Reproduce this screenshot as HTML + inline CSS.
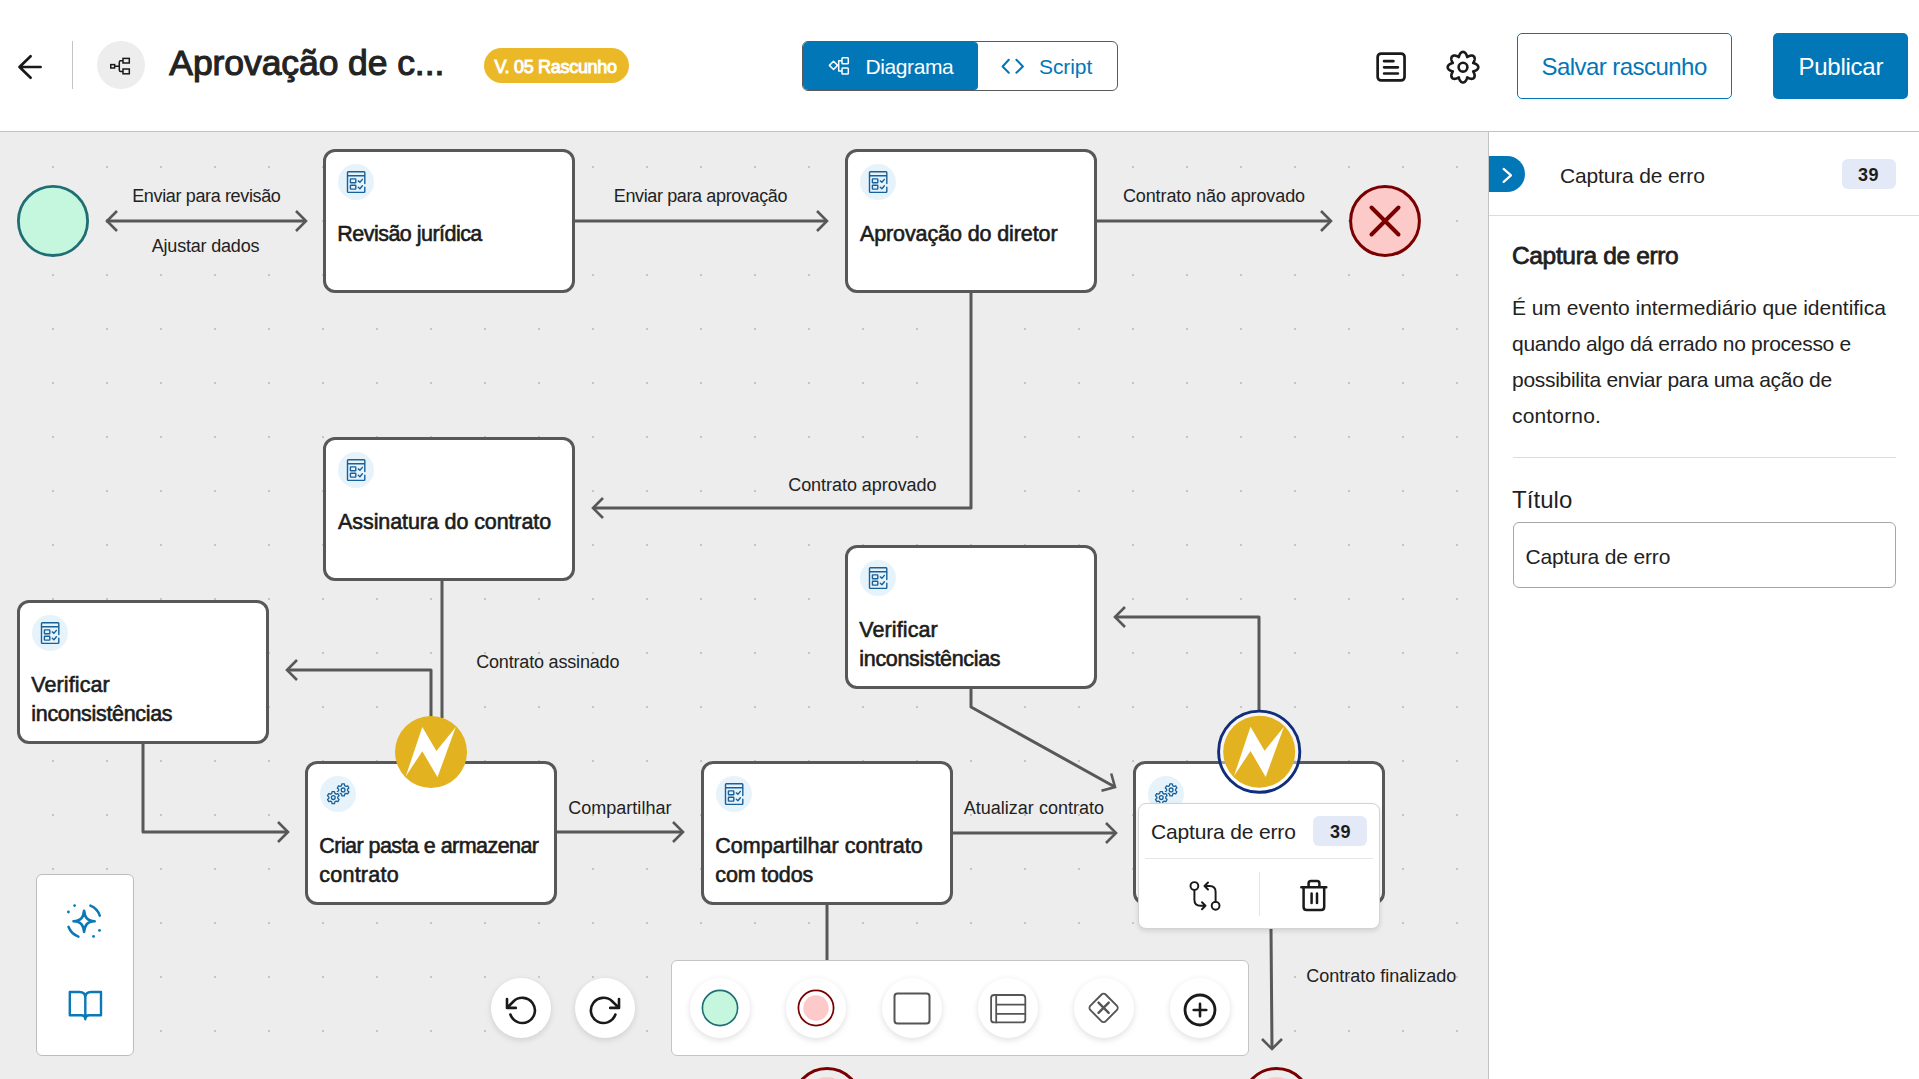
<!DOCTYPE html>
<html><head><meta charset="utf-8">
<style>
*{box-sizing:border-box;margin:0;padding:0}
html,body{width:1919px;height:1079px;overflow:hidden;background:#fff;font-family:"Liberation Sans",sans-serif;color:#1f1f1f}
.a{position:absolute}
.t{position:absolute;white-space:nowrap;line-height:1}
#header{position:absolute;left:0;top:0;width:1919px;height:132px;background:#fff;border-bottom:1px solid #c2c2c2}
#canvas{position:absolute;left:0;top:132px;width:1488px;height:947px;background:#ededed;overflow:hidden}
#panel{position:absolute;left:1488px;top:132px;width:431px;height:947px;background:#fff;border-left:1px solid #c3c3c3}
.node{position:absolute;width:252px;height:144px;background:#fff;border:3px solid #585858;border-radius:12px}
.node .ic{position:absolute;left:12px;top:12px}
.nt{position:absolute;left:11.3px;white-space:nowrap;font-size:21.5px;font-weight:normal;-webkit-text-stroke:0.6px #1c1c1c;line-height:29.5px;color:#1c1c1c}
.lbl{font-size:18px;color:#222;margin-left:-0.8px}
.rb{width:60px;height:60px;border-radius:50%;background:#fff;box-shadow:0 2px 6px rgba(0,0,0,0.13)}
#panel .t{margin-left:-1px}
</style></head><body>
<div id="header">
  <svg class="a" style="left:0;top:40px" width="60" height="60" viewBox="0 40 60 60"><path d="M40.6 67H19.5M30.6 56.2L19.5 67L30.6 77.8" fill="none" stroke="#1a1a1a" stroke-width="2.7" stroke-linecap="round" stroke-linejoin="round"/></svg>
  <div class="a" style="left:72px;top:41px;width:1px;height:48px;background:#c4c4c4"></div>
  <div class="a" style="left:97px;top:41px;width:48px;height:48px;border-radius:50%;background:#ededed"></div>
  <svg class="a" style="left:109px;top:56px" width="24" height="20" viewBox="0 0 24 20"><g fill="none" stroke="#1a1a1a" stroke-width="1.5"><rect x="1.75" y="8.6" width="3.9" height="3.4"/><rect x="14" y="2.4" width="6.3" height="4.6"/><rect x="14" y="13" width="6.3" height="4.8"/><path d="M5.65 10.3H10.3M14 4.7H11.8Q10.3 4.7 10.3 6.2V13.9Q10.3 15.4 11.8 15.4H14"/></g></svg>
  <div class="t" style="left:169.3px;top:46.4px;font-size:35.5px;-webkit-text-stroke:1.1px #232323;letter-spacing:-0.08px;color:#232323">Aprovação de c...</div>
  <div class="a" style="left:483.5px;top:48px;width:145px;height:35px;border-radius:18px;background:#ebb828"></div>
  <div class="t" style="left:494.5px;top:58px;font-size:18px;-webkit-text-stroke:0.95px #fff;letter-spacing:-0.3px;color:#fff">V. 05 Rascunho</div>

  <div class="a" style="left:802px;top:41px;width:316px;height:50px;border:1px solid #5a5a5a;border-radius:6px;overflow:hidden">
    <div class="a" style="left:0;top:0;width:174.5px;height:48px;background:#0277b8;border-radius:0 4px 4px 0"></div>
  </div>
  <svg class="a" style="left:826px;top:55px" width="26" height="22" viewBox="0 0 26 22"><g fill="none" stroke="#fff" stroke-width="1.5" stroke-linejoin="round"><path d="M3.4 10.4L7.5 6.3L11.6 10.4L7.5 14.5Z"/><rect x="16" y="2.75" width="6.3" height="6" rx="0.8"/><rect x="16" y="13" width="6.3" height="6" rx="0.8"/><path d="M16 5.75H12.7V16H16"/></g></svg>
  <div class="t" style="left:865.5px;top:56px;font-size:21px;letter-spacing:-0.4px;color:#fff">Diagrama</div>
  <svg class="a" style="left:999px;top:56px" width="28" height="20" viewBox="0 0 28 20"><g fill="none" stroke="#0277b8" stroke-width="2" stroke-linecap="round" stroke-linejoin="round"><path d="M9.8 3.8L3.6 10.5L9.8 16.8M17.4 3.8L23.9 10.5L17.4 16.8"/></g></svg>
  <div class="t" style="left:1039px;top:56px;font-size:21px;letter-spacing:-0.08px;color:#0277b8">Script</div>

  <svg class="a" style="left:1373px;top:49px" width="36" height="36" viewBox="0 0 36 36"><g fill="none" stroke="#1a1a1a" stroke-width="2.7" stroke-linecap="round" stroke-linejoin="round"><rect x="4.65" y="4.55" width="26.9" height="26.9" rx="3.5"/><path d="M11.1 12.2H20.4M11.1 18.3H24.9M11.1 24.5H24.9"/></g></svg>
  <svg class="a" style="left:1445px;top:49px" width="36" height="36" viewBox="0 0 36 36"><g fill="none" stroke="#1a1a1a" stroke-width="2.6" stroke-linejoin="round"><path d="M18.00 2.90L18.30 2.92L18.60 2.97L18.89 3.06L19.18 3.18L19.46 3.33L19.74 3.52L20.00 3.73L20.25 3.97L20.49 4.24L20.72 4.53L20.93 4.84L21.13 5.17L21.31 5.52L21.48 5.88L21.63 6.24L21.76 6.61L21.89 6.99L22.00 7.36L22.10 7.71L22.21 8.04L22.51 7.88L22.84 7.70L23.18 7.52L23.53 7.35L23.89 7.18L24.26 7.03L24.63 6.89L25.00 6.78L25.37 6.68L25.74 6.61L26.11 6.57L26.47 6.55L26.82 6.55L27.15 6.59L27.48 6.65L27.79 6.74L28.08 6.86L28.35 7.01L28.59 7.18L28.82 7.38L29.02 7.61L29.19 7.85L29.34 8.12L29.46 8.41L29.55 8.72L29.61 9.05L29.65 9.38L29.65 9.73L29.63 10.09L29.59 10.46L29.52 10.83L29.42 11.20L29.31 11.57L29.17 11.94L29.02 12.31L28.85 12.67L28.68 13.02L28.50 13.36L28.32 13.69L28.16 13.99L28.49 14.10L28.84 14.20L29.21 14.31L29.59 14.44L29.96 14.57L30.32 14.72L30.68 14.89L31.03 15.07L31.36 15.27L31.67 15.48L31.96 15.71L32.23 15.95L32.47 16.20L32.68 16.46L32.87 16.74L33.02 17.02L33.14 17.31L33.23 17.60L33.28 17.90L33.30 18.20L33.28 18.50L33.23 18.80L33.14 19.09L33.02 19.38L32.87 19.66L32.68 19.94L32.47 20.20L32.23 20.45L31.96 20.69L31.67 20.92L31.36 21.13L31.03 21.33L30.68 21.51L30.32 21.68L29.96 21.83L29.59 21.96L29.21 22.09L28.84 22.20L28.49 22.30L28.16 22.41L28.32 22.71L28.50 23.04L28.68 23.38L28.85 23.73L29.02 24.09L29.17 24.46L29.31 24.83L29.42 25.20L29.52 25.57L29.59 25.94L29.63 26.31L29.65 26.67L29.65 27.02L29.61 27.35L29.55 27.68L29.46 27.99L29.34 28.28L29.19 28.55L29.02 28.79L28.82 29.02L28.59 29.22L28.35 29.39L28.08 29.54L27.79 29.66L27.48 29.75L27.15 29.81L26.82 29.85L26.47 29.85L26.11 29.83L25.74 29.79L25.37 29.72L25.00 29.62L24.63 29.51L24.26 29.37L23.89 29.22L23.53 29.05L23.18 28.88L22.84 28.70L22.51 28.52L22.21 28.36L22.10 28.69L22.00 29.04L21.89 29.41L21.76 29.79L21.63 30.16L21.48 30.52L21.31 30.88L21.13 31.23L20.93 31.56L20.72 31.87L20.49 32.16L20.25 32.43L20.00 32.67L19.74 32.88L19.46 33.07L19.18 33.22L18.89 33.34L18.60 33.43L18.30 33.48L18.00 33.50L17.70 33.48L17.40 33.43L17.11 33.34L16.82 33.22L16.54 33.07L16.26 32.88L16.00 32.67L15.75 32.43L15.51 32.16L15.28 31.87L15.07 31.56L14.87 31.23L14.69 30.88L14.52 30.52L14.37 30.16L14.24 29.79L14.11 29.41L14.00 29.04L13.90 28.69L13.79 28.36L13.49 28.52L13.16 28.70L12.82 28.88L12.47 29.05L12.11 29.22L11.74 29.37L11.37 29.51L11.00 29.62L10.63 29.72L10.26 29.79L9.89 29.83L9.53 29.85L9.18 29.85L8.85 29.81L8.52 29.75L8.21 29.66L7.92 29.54L7.65 29.39L7.41 29.22L7.18 29.02L6.98 28.79L6.81 28.55L6.66 28.28L6.54 27.99L6.45 27.68L6.39 27.35L6.35 27.02L6.35 26.67L6.37 26.31L6.41 25.94L6.48 25.57L6.58 25.20L6.69 24.83L6.83 24.46L6.98 24.09L7.15 23.73L7.32 23.38L7.50 23.04L7.68 22.71L7.84 22.41L7.51 22.30L7.16 22.20L6.79 22.09L6.41 21.96L6.04 21.83L5.68 21.68L5.32 21.51L4.97 21.33L4.64 21.13L4.33 20.92L4.04 20.69L3.77 20.45L3.53 20.20L3.32 19.94L3.13 19.66L2.98 19.38L2.86 19.09L2.77 18.80L2.72 18.50L2.70 18.20L2.72 17.90L2.77 17.60L2.86 17.31L2.98 17.02L3.13 16.74L3.32 16.46L3.53 16.20L3.77 15.95L4.04 15.71L4.33 15.48L4.64 15.27L4.97 15.07L5.32 14.89L5.68 14.72L6.04 14.57L6.41 14.44L6.79 14.31L7.16 14.20L7.51 14.10L7.84 13.99L7.68 13.69L7.50 13.36L7.32 13.02L7.15 12.67L6.98 12.31L6.83 11.94L6.69 11.57L6.58 11.20L6.48 10.83L6.41 10.46L6.37 10.09L6.35 9.73L6.35 9.38L6.39 9.05L6.45 8.72L6.54 8.41L6.66 8.12L6.81 7.85L6.98 7.61L7.18 7.38L7.41 7.18L7.65 7.01L7.92 6.86L8.21 6.74L8.52 6.65L8.85 6.59L9.18 6.55L9.53 6.55L9.89 6.57L10.26 6.61L10.63 6.68L11.00 6.78L11.37 6.89L11.74 7.03L12.11 7.18L12.47 7.35L12.82 7.52L13.16 7.70L13.49 7.88L13.79 8.04L13.90 7.71L14.00 7.36L14.11 6.99L14.24 6.61L14.37 6.24L14.52 5.88L14.69 5.52L14.87 5.17L15.07 4.84L15.28 4.53L15.51 4.24L15.75 3.97L16.00 3.73L16.26 3.52L16.54 3.33L16.82 3.18L17.11 3.06L17.40 2.97L17.70 2.92Z"/><circle cx="18" cy="18.2" r="4.4"/></g></svg>

  <div class="a" style="left:1517px;top:33px;width:215px;height:66px;border:1.5px solid #0277b8;border-radius:5px"></div>
  <div class="t" style="left:1541.5px;top:55px;font-size:24px;letter-spacing:-0.55px;color:#0277b8">Salvar rascunho</div>
  <div class="a" style="left:1773px;top:33px;width:135px;height:66px;background:#0277b8;border-radius:5px"></div>
  <div class="t" style="left:1798.5px;top:55px;font-size:24px;letter-spacing:-0.26px;color:#fff">Publicar</div>
</div>
<div id="canvas">
  <svg class="a" style="left:0;top:0" width="1488" height="947">
    <defs><pattern id="dots" x="52" y="34" width="54" height="54" patternUnits="userSpaceOnUse"><rect x="0" y="0" width="2" height="2" fill="#c6c6c6"/></pattern></defs>
    <rect x="0" y="0" width="1488" height="947" fill="url(#dots)"/>
  </svg>
  <svg class="a" style="left:0;top:0" width="1488" height="947"><g transform="translate(0,-132)" fill="none" stroke="#585858" stroke-linejoin="round"><path stroke-width="3" d="M106 221H306M575 221H827M1097 221H1331M971 293V508H593M442 580V718M431 718V670H287M143 742V832H288M557 832H683M953 833H1116M971 688V707L1115 787M1259 712V617H1115M827 904V962M1271 928L1272 1049"/><path stroke-width="2.6" stroke-linecap="butt" stroke-linejoin="miter" d="M117.0 211.0L107.0 221.0L117.0 231.0M296.0 211.0L306.0 221.0L296.0 231.0M817.0 211.0L827.0 221.0L817.0 231.0M1321.0 211.0L1331.0 221.0L1321.0 231.0M603.0 498.0L593.0 508.0L603.0 518.0M297.0 660.0L287.0 670.0L297.0 680.0M278.0 822.0L288.0 832.0L278.0 842.0M673.0 822.0L683.0 832.0L673.0 842.0M1106.0 823.0L1116.0 833.0L1106.0 843.0M1125.0 607.0L1115.0 617.0L1125.0 627.0M1262.0 1039.0L1272.0 1049.0L1282.0 1039.0M1111.2 773.5L1115.0 787.0L1101.5 790.8"/></g></svg>
  <div class="node" style="left:323px;top:17px"><svg class="ic" width="36" height="36" viewBox="0 0 36 36"><circle cx="18" cy="18" r="18" fill="#e7f3fb"/><g fill="none" stroke="#17609a" stroke-width="1.4" stroke-linecap="round" stroke-linejoin="round"><path d="M26.8 19.6V8.6Q26.8 7.8 26 7.8H10.3Q9.5 7.8 9.5 8.6V27.6Q9.5 28.4 10.3 28.4H26Q26.8 28.4 26.8 27.6V23.2M9.5 11.8H26.8"/><rect x="12.4" y="14.9" width="5.4" height="3.8" rx="0.5"/><rect x="12.4" y="21.3" width="5.4" height="3.8" rx="0.5"/><path d="M20.3 16.9L21.9 18.3L24.4 15.4M20.3 23.3L21.9 24.7L24.4 21.8"/></g></svg><div class="nt" style="top:67.6px;letter-spacing:-0.53px">Revisão jurídica</div></div>
  <div class="node" style="left:845px;top:17px"><svg class="ic" width="36" height="36" viewBox="0 0 36 36"><circle cx="18" cy="18" r="18" fill="#e7f3fb"/><g fill="none" stroke="#17609a" stroke-width="1.4" stroke-linecap="round" stroke-linejoin="round"><path d="M26.8 19.6V8.6Q26.8 7.8 26 7.8H10.3Q9.5 7.8 9.5 8.6V27.6Q9.5 28.4 10.3 28.4H26Q26.8 28.4 26.8 27.6V23.2M9.5 11.8H26.8"/><rect x="12.4" y="14.9" width="5.4" height="3.8" rx="0.5"/><rect x="12.4" y="21.3" width="5.4" height="3.8" rx="0.5"/><path d="M20.3 16.9L21.9 18.3L24.4 15.4M20.3 23.3L21.9 24.7L24.4 21.8"/></g></svg><div class="nt" style="top:67.6px;letter-spacing:-0.1px;margin-left:0.6px">Aprovação do diretor</div></div>
  <div class="node" style="left:323px;top:305px"><svg class="ic" width="36" height="36" viewBox="0 0 36 36"><circle cx="18" cy="18" r="18" fill="#e7f3fb"/><g fill="none" stroke="#17609a" stroke-width="1.4" stroke-linecap="round" stroke-linejoin="round"><path d="M26.8 19.6V8.6Q26.8 7.8 26 7.8H10.3Q9.5 7.8 9.5 8.6V27.6Q9.5 28.4 10.3 28.4H26Q26.8 28.4 26.8 27.6V23.2M9.5 11.8H26.8"/><rect x="12.4" y="14.9" width="5.4" height="3.8" rx="0.5"/><rect x="12.4" y="21.3" width="5.4" height="3.8" rx="0.5"/><path d="M20.3 16.9L21.9 18.3L24.4 15.4M20.3 23.3L21.9 24.7L24.4 21.8"/></g></svg><div class="nt" style="top:67.6px;letter-spacing:-0.1px;margin-left:0.8px">Assinatura do contrato</div></div>
  <div class="node" style="left:845px;top:413px"><svg class="ic" width="36" height="36" viewBox="0 0 36 36"><circle cx="18" cy="18" r="18" fill="#e7f3fb"/><g fill="none" stroke="#17609a" stroke-width="1.4" stroke-linecap="round" stroke-linejoin="round"><path d="M26.8 19.6V8.6Q26.8 7.8 26 7.8H10.3Q9.5 7.8 9.5 8.6V27.6Q9.5 28.4 10.3 28.4H26Q26.8 28.4 26.8 27.6V23.2M9.5 11.8H26.8"/><rect x="12.4" y="14.9" width="5.4" height="3.8" rx="0.5"/><rect x="12.4" y="21.3" width="5.4" height="3.8" rx="0.5"/><path d="M20.3 16.9L21.9 18.3L24.4 15.4M20.3 23.3L21.9 24.7L24.4 21.8"/></g></svg><div class="nt" style="top:67.6px;letter-spacing:0.09px">Verificar</div><div class="nt" style="top:97.1px;letter-spacing:-0.32px">inconsistências</div></div>
  <div class="node" style="left:17px;top:468px"><svg class="ic" width="36" height="36" viewBox="0 0 36 36"><circle cx="18" cy="18" r="18" fill="#e7f3fb"/><g fill="none" stroke="#17609a" stroke-width="1.4" stroke-linecap="round" stroke-linejoin="round"><path d="M26.8 19.6V8.6Q26.8 7.8 26 7.8H10.3Q9.5 7.8 9.5 8.6V27.6Q9.5 28.4 10.3 28.4H26Q26.8 28.4 26.8 27.6V23.2M9.5 11.8H26.8"/><rect x="12.4" y="14.9" width="5.4" height="3.8" rx="0.5"/><rect x="12.4" y="21.3" width="5.4" height="3.8" rx="0.5"/><path d="M20.3 16.9L21.9 18.3L24.4 15.4M20.3 23.3L21.9 24.7L24.4 21.8"/></g></svg><div class="nt" style="top:67.6px;letter-spacing:0.09px">Verificar</div><div class="nt" style="top:97.1px;letter-spacing:-0.32px">inconsistências</div></div>
  <div class="node" style="left:305px;top:629px"><svg class="ic" width="36" height="36" viewBox="0 0 36 36"><circle cx="18" cy="18" r="18" fill="#e7f3fb"/><g fill="none" stroke="#17609a" stroke-width="1.3" stroke-linejoin="round"><path d="M21.51 9.69L21.89 7.92L24.31 7.92L24.69 9.69L25.95 10.42L27.67 9.86L28.88 11.96L27.54 13.17L27.54 14.63L28.88 15.84L27.67 17.94L25.95 17.38L24.69 18.11L24.31 19.88L21.89 19.88L21.51 18.11L20.25 17.38L18.53 17.94L17.32 15.84L18.66 14.63L18.66 13.17L17.32 11.96L18.53 9.86L20.25 10.42Z"/><circle cx="23.1" cy="13.9" r="1.9"/><path d="M11.71 17.39L12.09 15.62L14.51 15.62L14.89 17.39L16.15 18.12L17.87 17.56L19.08 19.66L17.74 20.87L17.74 22.33L19.08 23.54L17.87 25.64L16.15 25.08L14.89 25.81L14.51 27.58L12.09 27.58L11.71 25.81L10.45 25.08L8.73 25.64L7.52 23.54L8.86 22.33L8.86 20.87L7.52 19.66L8.73 17.56L10.45 18.12Z" fill="#e7f3fb" stroke="#e7f3fb" stroke-width="3.2"/><path d="M11.71 17.39L12.09 15.62L14.51 15.62L14.89 17.39L16.15 18.12L17.87 17.56L19.08 19.66L17.74 20.87L17.74 22.33L19.08 23.54L17.87 25.64L16.15 25.08L14.89 25.81L14.51 27.58L12.09 27.58L11.71 25.81L10.45 25.08L8.73 25.64L7.52 23.54L8.86 22.33L8.86 20.87L7.52 19.66L8.73 17.56L10.45 18.12Z"/><circle cx="13.3" cy="21.6" r="1.9"/></g></svg><div class="nt" style="top:67.6px;letter-spacing:-0.55px">Criar pasta e armazenar</div><div class="nt" style="top:97.1px;letter-spacing:0.23px">contrato</div></div>
  <div class="node" style="left:701px;top:629px"><svg class="ic" width="36" height="36" viewBox="0 0 36 36"><circle cx="18" cy="18" r="18" fill="#e7f3fb"/><g fill="none" stroke="#17609a" stroke-width="1.4" stroke-linecap="round" stroke-linejoin="round"><path d="M26.8 19.6V8.6Q26.8 7.8 26 7.8H10.3Q9.5 7.8 9.5 8.6V27.6Q9.5 28.4 10.3 28.4H26Q26.8 28.4 26.8 27.6V23.2M9.5 11.8H26.8"/><rect x="12.4" y="14.9" width="5.4" height="3.8" rx="0.5"/><rect x="12.4" y="21.3" width="5.4" height="3.8" rx="0.5"/><path d="M20.3 16.9L21.9 18.3L24.4 15.4M20.3 23.3L21.9 24.7L24.4 21.8"/></g></svg><div class="nt" style="top:67.6px;letter-spacing:0.03px">Compartilhar contrato</div><div class="nt" style="top:97.1px;letter-spacing:-0.16px">com todos</div></div>
  <div class="node" style="left:1133px;top:629px"><svg class="ic" width="36" height="36" viewBox="0 0 36 36"><circle cx="18" cy="18" r="18" fill="#e7f3fb"/><g fill="none" stroke="#17609a" stroke-width="1.3" stroke-linejoin="round"><path d="M21.51 9.69L21.89 7.92L24.31 7.92L24.69 9.69L25.95 10.42L27.67 9.86L28.88 11.96L27.54 13.17L27.54 14.63L28.88 15.84L27.67 17.94L25.95 17.38L24.69 18.11L24.31 19.88L21.89 19.88L21.51 18.11L20.25 17.38L18.53 17.94L17.32 15.84L18.66 14.63L18.66 13.17L17.32 11.96L18.53 9.86L20.25 10.42Z"/><circle cx="23.1" cy="13.9" r="1.9"/><path d="M11.71 17.39L12.09 15.62L14.51 15.62L14.89 17.39L16.15 18.12L17.87 17.56L19.08 19.66L17.74 20.87L17.74 22.33L19.08 23.54L17.87 25.64L16.15 25.08L14.89 25.81L14.51 27.58L12.09 27.58L11.71 25.81L10.45 25.08L8.73 25.64L7.52 23.54L8.86 22.33L8.86 20.87L7.52 19.66L8.73 17.56L10.45 18.12Z" fill="#e7f3fb" stroke="#e7f3fb" stroke-width="3.2"/><path d="M11.71 17.39L12.09 15.62L14.51 15.62L14.89 17.39L16.15 18.12L17.87 17.56L19.08 19.66L17.74 20.87L17.74 22.33L19.08 23.54L17.87 25.64L16.15 25.08L14.89 25.81L14.51 27.58L12.09 27.58L11.71 25.81L10.45 25.08L8.73 25.64L7.52 23.54L8.86 22.33L8.86 20.87L7.52 19.66L8.73 17.56L10.45 18.12Z"/><circle cx="13.3" cy="21.6" r="1.9"/></g></svg></div>
  <svg class="a" style="left:0;top:0" width="1488" height="947"><g transform="translate(0,-132)">
  <circle cx="53" cy="220.9" r="34.6" fill="#c4f7de" stroke="#1f6e73" stroke-width="2.8"/>
  <circle cx="1385" cy="221" r="34.4" fill="#fdcaca" stroke="#7a0000" stroke-width="3"/>
  <path d="M1371.5 207.5L1398.5 234.5M1398.5 207.5L1371.5 234.5" stroke="#7a0000" stroke-width="4" stroke-linecap="round"/>
  <circle cx="827" cy="1102" r="33.5" fill="none" stroke="#7a0000" stroke-width="3"/>
  <circle cx="827" cy="1102" r="25" fill="#fdcaca"/>
  <circle cx="1276.5" cy="1102" r="33.5" fill="none" stroke="#7a0000" stroke-width="3"/>
  <circle cx="1276.5" cy="1102" r="25" fill="#fdcaca"/>
</g></svg>
  <div class="t lbl" style="left:133px;top:54.8px;letter-spacing:-0.356px">Enviar para revisão</div>
  <div class="t lbl" style="left:152.5px;top:104.8px;letter-spacing:-0.19px">Ajustar dados</div>
  <div class="t lbl" style="left:614.6px;top:54.8px;letter-spacing:-0.374px">Enviar para aprovação</div>
  <div class="t lbl" style="left:1123.7px;top:54.8px;letter-spacing:-0.096px">Contrato não aprovado</div>
  <div class="t lbl" style="left:789px;top:343.8px;letter-spacing:-0.046px">Contrato aprovado</div>
  <div class="t lbl" style="left:477px;top:521.1px;letter-spacing:-0.18px">Contrato assinado</div>
  <div class="t lbl" style="left:569px;top:667.4px;letter-spacing:0.02px">Compartilhar</div>
  <div class="t lbl" style="left:964.5px;top:666.6px;letter-spacing:0.016px">Atualizar contrato</div>
  <div class="t lbl" style="left:1307px;top:835.2px;letter-spacing:0px">Contrato finalizado</div>
  <svg class="a" style="left:0;top:0" width="1488" height="947"><g transform="translate(0,-132)">
  <circle cx="431" cy="752" r="36" fill="#e2b220"/>
  <path transform="translate(431,752)" d="M-8.7 -25L5.4 -1L24.8 -25L6.5 25.2L-8.7 -0.7L-25.2 24.3Z" fill="#fff"/>
  <circle cx="1259.2" cy="751.7" r="40.6" fill="rgba(255,255,255,0.45)" stroke="#112e7c" stroke-width="2.9"/>
  <circle cx="1259.2" cy="751.7" r="36" fill="#e2b220"/>
  <path transform="translate(1259.2,751.7)" d="M-8.7 -25L5.4 -1L24.8 -25L6.5 25.2L-8.7 -0.7L-25.2 24.3Z" fill="#fff"/>
  </g></svg>
  <div class="a" style="left:1138px;top:671px;width:242px;height:125.5px;background:#fff;border:1px solid #d4d4d4;border-radius:8px;box-shadow:0 2px 5px rgba(0,0,0,0.12)"></div>
  <div class="t" style="left:1151px;top:689.2px;font-size:21px;letter-spacing:-0.16px;color:#222">Captura de erro</div>
  <div class="a" style="left:1313px;top:684px;width:54px;height:30px;border-radius:6px;background:#e3e9f6"></div>
  <div class="t" style="left:1330px;top:690.8px;font-size:18px;font-weight:bold;letter-spacing:0.4px;color:#1c1c1c">39</div>
  <div class="a" style="left:1145px;top:726px;width:228px;height:1px;background:#e6e6e6"></div>
  <div class="a" style="left:1259px;top:739.5px;width:1px;height:44px;background:#e6e6e6"></div>
  <svg class="a" style="left:1185px;top:744px" width="40" height="40" viewBox="0 0 40 40"><g fill="none" stroke="#1a1a1a" stroke-width="1.95" stroke-linecap="round" stroke-linejoin="round" transform="translate(-1185,-876)"><circle cx="1194.4" cy="886" r="3.9"/><circle cx="1215.6" cy="905.8" r="3.9"/><path d="M1194.4 889.9V899.8Q1194.4 905.8 1200.4 905.8H1205.5M1202 902.3L1205.5 905.8L1202 909.3"/><path d="M1215.6 901.9V892Q1215.6 886 1209.6 886H1204.5M1208 882.5L1204.5 886L1208 889.5"/></g></svg>
  <svg class="a" style="left:1295px;top:744px" width="40" height="40" viewBox="0 0 40 40"><g fill="none" stroke="#1a1a1a" stroke-width="2.5" stroke-linecap="round" stroke-linejoin="round" transform="translate(-1295,-876)"><path d="M1301.3 887.2H1326.3M1308.6 887V883.3Q1308.6 881 1310.9 881H1317.1Q1319.4 881 1319.4 883.3V887M1303.6 887.2V907Q1303.6 910 1306.6 910H1321.2Q1324.2 910 1324.2 907V887.2M1311.6 893.5V903M1317 893.5V903"/></g></svg>
  <div class="a" style="left:36px;top:742px;width:98px;height:182px;background:#fff;border:1px solid #bdbdbd;border-radius:6px"></div>
  <svg class="a" style="left:0;top:0" width="1488" height="947"><g transform="translate(0,-132)" fill="none" stroke="#0b78b8" stroke-width="2.2" stroke-linecap="round" stroke-linejoin="round">
    <path stroke-width="2.6" d="M84.10 910.70C84.80 917.00 86.68 920.88 94.70 921.30C86.68 921.72 84.80 925.60 84.10 931.90C83.40 925.60 81.52 921.72 73.50 921.30C81.52 920.88 83.40 917.00 84.10 910.70Z"/>
    <path stroke-width="2.5" d="M90.4 905.6A16.5 16.5 0 0 1 99.8 915.6M78.4 936.6A16.5 16.5 0 0 1 68.5 926.8"/>
    <g fill="#0b78b8" stroke="none"><circle cx="74.6" cy="905.6" r="1.4"/><circle cx="68.4" cy="912" r="1.4"/><circle cx="99.5" cy="930.4" r="1.4"/><circle cx="93.5" cy="936.4" r="1.4"/></g>
    <path stroke-width="2.4" d="M69.8 992H79.5Q85.3 992 85.3 997.5Q85.3 992 91.1 992H101V1015.2H89.2Q85.3 1015.2 85.3 1019.3Q85.3 1015.2 81.4 1015.2H69.8ZM85.3 997.5V1015"/>
  </g></svg>
  <div class="a rb" style="left:491px;top:846px"></div>
  <div class="a rb" style="left:575px;top:846px"></div>
  <svg class="a" style="left:0;top:0" width="1488" height="947"><g transform="translate(0,-132)" fill="none" stroke="#1a1a1a" stroke-width="2.6" stroke-linecap="round" stroke-linejoin="round">
    <path d="M510.4 1014.5A12.6 12.6 0 1 0 513.4 1001.5L507 1007.9M507 999V1007.9H515.8"/>
    <path d="M615.4 1014.5A12.6 12.6 0 1 1 612.4 1001.5L619 1007.9M619 999V1007.9H610.2"/>
  </g></svg>
  <div class="a" style="left:671px;top:828px;width:578px;height:96px;background:#fff;border:1px solid #c4c4c4;border-radius:6px"></div>
  <div class="a rb" style="left:690px;top:846px"></div>
  <div class="a rb" style="left:786px;top:846px"></div>
  <div class="a rb" style="left:882px;top:846px"></div>
  <div class="a rb" style="left:978px;top:846px"></div>
  <div class="a rb" style="left:1074px;top:846px"></div>
  <div class="a rb" style="left:1170px;top:846px"></div>
  <svg class="a" style="left:0;top:0" width="1488" height="947"><g transform="translate(0,-132)" fill="none" stroke-linecap="round" stroke-linejoin="round">
    <circle cx="720" cy="1008" r="17.6" fill="#c4f7de" stroke="#1f7076" stroke-width="1.7"/>
    <circle cx="816" cy="1008" r="17.6" fill="#fff" stroke="#7a0000" stroke-width="1.8"/>
    <circle cx="816" cy="1008" r="12.7" fill="#fdc9c9"/>
    <rect x="894.5" y="993.6" width="35" height="29.8" rx="3" stroke="#555" stroke-width="2"/>
    <rect x="991.1" y="995" width="34.2" height="27.4" rx="3" stroke="#555" stroke-width="1.8"/>
    <path d="M996.2 995V1022.4M996.2 1004.6H1025.3M996.2 1013.9H1025.3" stroke="#555" stroke-width="1.8"/>
    <rect x="1092.7" y="997" width="21.8" height="21.8" rx="3.2" transform="rotate(45 1103.6 1007.9)" stroke="#555" stroke-width="1.9"/>
    <path d="M1098.5 1002.6L1108.7 1012.8M1108.7 1002.6L1098.5 1012.8" stroke="#555" stroke-width="2.4"/>
    <circle cx="1200" cy="1010" r="15" stroke="#1a1a1a" stroke-width="2.8"/>
    <path d="M1193.7 1010H1206.3M1200 1003.7V1016.3" stroke="#1a1a1a" stroke-width="2.6"/>
  </g></svg>
</div>
<div id="panel">
  <div class="a" style="left:0;top:24px;width:36px;height:36px;background:#0277b8;border-radius:0 18px 18px 0"></div>
  <svg class="a" style="left:7px;top:31px" width="22" height="22" viewBox="0 0 22 22"><path d="M7.6 5.9L15 12.4L7.6 18.9" fill="none" stroke="#fff" stroke-width="2.2" stroke-linecap="round" stroke-linejoin="round"/></svg>
  <div class="t" style="left:72px;top:32.8px;font-size:21px;letter-spacing:-0.16px;color:#222">Captura de erro</div>
  <div class="a" style="left:353px;top:27px;width:54px;height:30px;border-radius:6px;background:#e3e9f6"></div>
  <div class="t" style="left:370px;top:33.8px;font-size:18px;font-weight:bold;letter-spacing:0.4px;color:#1c1c1c">39</div>
  <div class="a" style="left:0;top:83px;width:432px;height:1px;background:#dcdcdc"></div>
  <div class="t" style="left:24px;top:111.8px;font-size:24.5px;-webkit-text-stroke:0.8px #1f1f1f;letter-spacing:-0.35px;color:#1f1f1f">Captura de erro</div>
  <div class="t" style="left:24px;top:165.2px;font-size:21px;letter-spacing:-0.02px;color:#222">É um evento intermediário que identifica</div>
  <div class="t" style="left:24px;top:201.1px;font-size:21px;letter-spacing:-0.29px;color:#222">quando algo dá errado no processo e</div>
  <div class="t" style="left:24px;top:237.0px;font-size:21px;letter-spacing:-0.3px;color:#222">possibilita enviar para uma ação de</div>
  <div class="t" style="left:24px;top:272.9px;font-size:21px;letter-spacing:0.16px;color:#222">contorno.</div>
  <div class="a" style="left:24px;top:325px;width:383px;height:1px;background:#dcdcdc"></div>
  <div class="t" style="left:24px;top:355.7px;font-size:24px;letter-spacing:0.05px;color:#1f1f1f">Título</div>
  <div class="a" style="left:24px;top:390px;width:383px;height:66px;border:1px solid #a6a6a6;border-radius:6px"></div>
  <div class="t" style="left:37.5px;top:414.2px;font-size:21px;letter-spacing:-0.16px;color:#222">Captura de erro</div>
</div>
</body></html>
